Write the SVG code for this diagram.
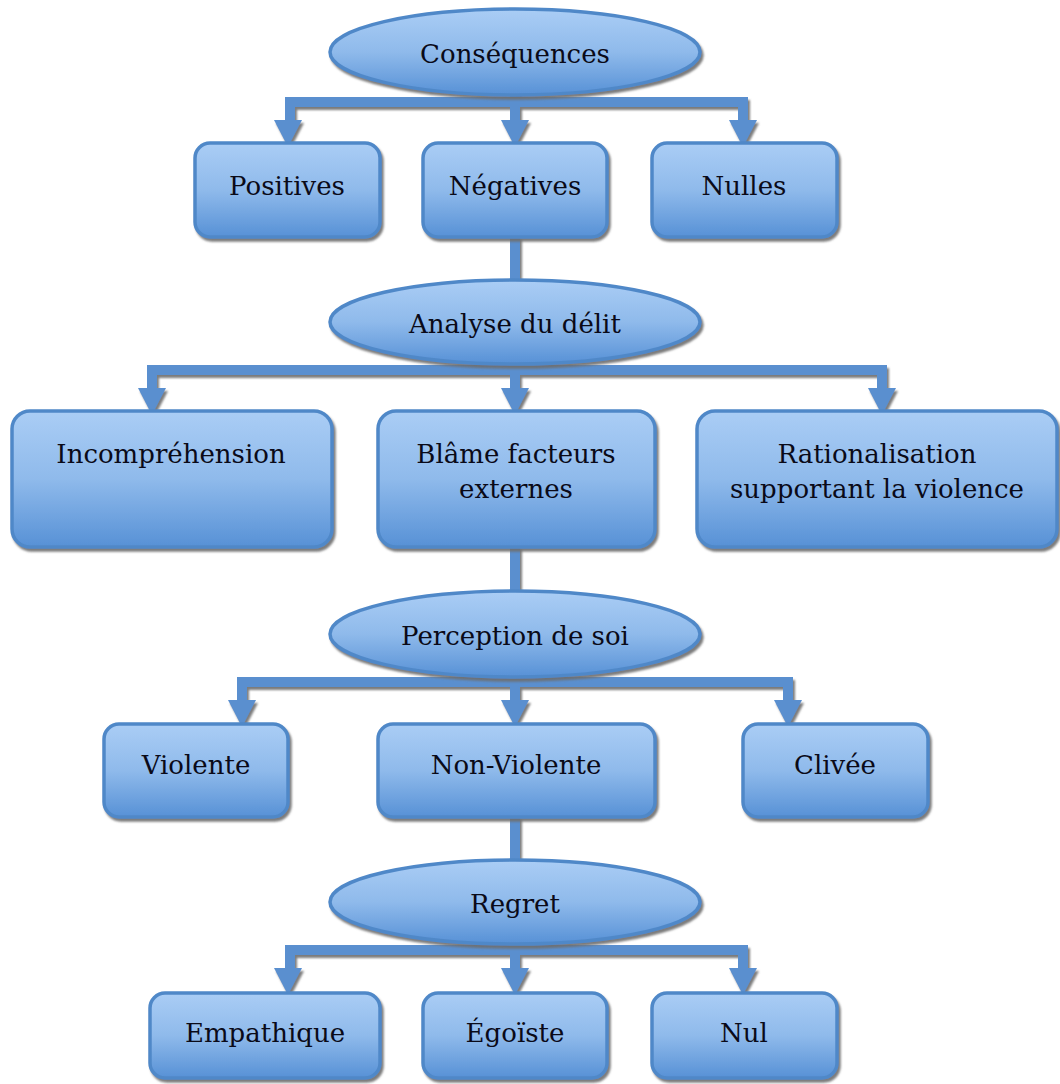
<svg xmlns="http://www.w3.org/2000/svg" width="1060" height="1084" viewBox="0 0 1060 1084">
<defs>
<linearGradient id="g" x1="0" y1="0" x2="0" y2="1">
<stop offset="0" stop-color="#aacdf5"/>
<stop offset="0.5" stop-color="#8fbaeb"/>
<stop offset="1" stop-color="#5791d6"/>
</linearGradient>
<filter id="sh" x="-10%" y="-10%" width="120%" height="130%">
<feDropShadow dx="2" dy="3" stdDeviation="1" flood-color="#6e6e6e" flood-opacity="0.9"/>
</filter>
</defs>
<style>
.n{fill:url(#g);stroke:#5088c8;stroke-width:3.5;filter:url(#sh)}
.t{font-family:"DejaVu Serif","Liberation Serif",serif;font-size:26px;fill:#0a0a18;text-anchor:middle}
.c{fill:none;stroke:#5a8fcf;stroke-width:10;stroke-linejoin:miter}
.a{fill:#5a8fcf}
.cs{filter:url(#sh)}
</style>
<rect width="1060" height="1084" fill="#ffffff"/>
<g id="connectors" class="cs">
<path class="c" d="M290 122 V102 H743 V122 M515 90 V122"/>
<polygon class="a" points="274,120 302,120 288,147"/>
<polygon class="a" points="501,120 529,120 515,147"/>
<polygon class="a" points="729,120 757,120 743,147"/>
<path class="c" d="M515 236 V290 M152 390 V370 H882 V390 M515 360 V390"/>
<polygon class="a" points="138,388 166,388 152,415"/>
<polygon class="a" points="501,388 529,388 515,415"/>
<polygon class="a" points="868,388 896,388 882,415"/>
<path class="c" d="M515 546 V600 M242 702 V682 H788 V702 M515 672 V702"/>
<polygon class="a" points="228,700 256,700 242,727"/>
<polygon class="a" points="501,700 529,700 515,727"/>
<polygon class="a" points="774,700 802,700 788,727"/>
<path class="c" d="M515 816 V870 M290 970 V950 H743 V970 M515 940 V970"/>
<polygon class="a" points="274,968 302,968 288,995"/>
<polygon class="a" points="501,968 529,968 515,995"/>
<polygon class="a" points="729,968 757,968 743,995"/>
</g>
<g id="consequences"><ellipse class="n" cx="515" cy="52" rx="185" ry="43"/><text class="t" x="515" y="63">Conséquences</text></g>
<g id="positives"><rect class="n" x="195" y="143" width="185" height="94" rx="15"/><text class="t" x="287" y="195">Positives</text></g>
<g id="negatives"><rect class="n" x="423" y="143" width="184" height="94" rx="15"/><text class="t" x="515" y="195">Négatives</text></g>
<g id="nulles"><rect class="n" x="652" y="143" width="185" height="94" rx="15"/><text class="t" x="744" y="195">Nulles</text></g>
<g id="analyse"><ellipse class="n" cx="515" cy="322" rx="185" ry="42"/><text class="t" x="515" y="333">Analyse du délit</text></g>
<g id="incomprehension"><rect class="n" x="12" y="411" width="320" height="136" rx="18"/><text class="t" x="171" y="463">Incompréhension</text></g>
<g id="blame"><rect class="n" x="378" y="411" width="277" height="136" rx="18"/><text class="t" x="516" y="463">Blâme facteurs</text><text class="t" x="516" y="498">externes</text></g>
<g id="rationalisation"><rect class="n" x="697" y="411" width="360" height="136" rx="18"/><text class="t" x="877" y="463">Rationalisation</text><text class="t" x="877" y="498">supportant la violence</text></g>
<g id="perception"><ellipse class="n" cx="515" cy="634" rx="185" ry="43"/><text class="t" x="515" y="645">Perception de soi</text></g>
<g id="violente"><rect class="n" x="104" y="724" width="184" height="93" rx="15"/><text class="t" x="196" y="774">Violente</text></g>
<g id="nonviolente"><rect class="n" x="378" y="724" width="277" height="93" rx="15"/><text class="t" x="516" y="774">Non-Violente</text></g>
<g id="clivee"><rect class="n" x="743" y="724" width="185" height="93" rx="15"/><text class="t" x="835" y="774">Clivée</text></g>
<g id="regret"><ellipse class="n" cx="515" cy="902" rx="185" ry="42"/><text class="t" x="515" y="913">Regret</text></g>
<g id="empathique"><rect class="n" x="150" y="993" width="230" height="85" rx="15"/><text class="t" x="265" y="1042">Empathique</text></g>
<g id="egoiste"><rect class="n" x="423" y="993" width="184" height="85" rx="15"/><text class="t" x="515" y="1042">Égoïste</text></g>
<g id="nul"><rect class="n" x="652" y="993" width="185" height="85" rx="15"/><text class="t" x="744" y="1042">Nul</text></g>
</svg>
